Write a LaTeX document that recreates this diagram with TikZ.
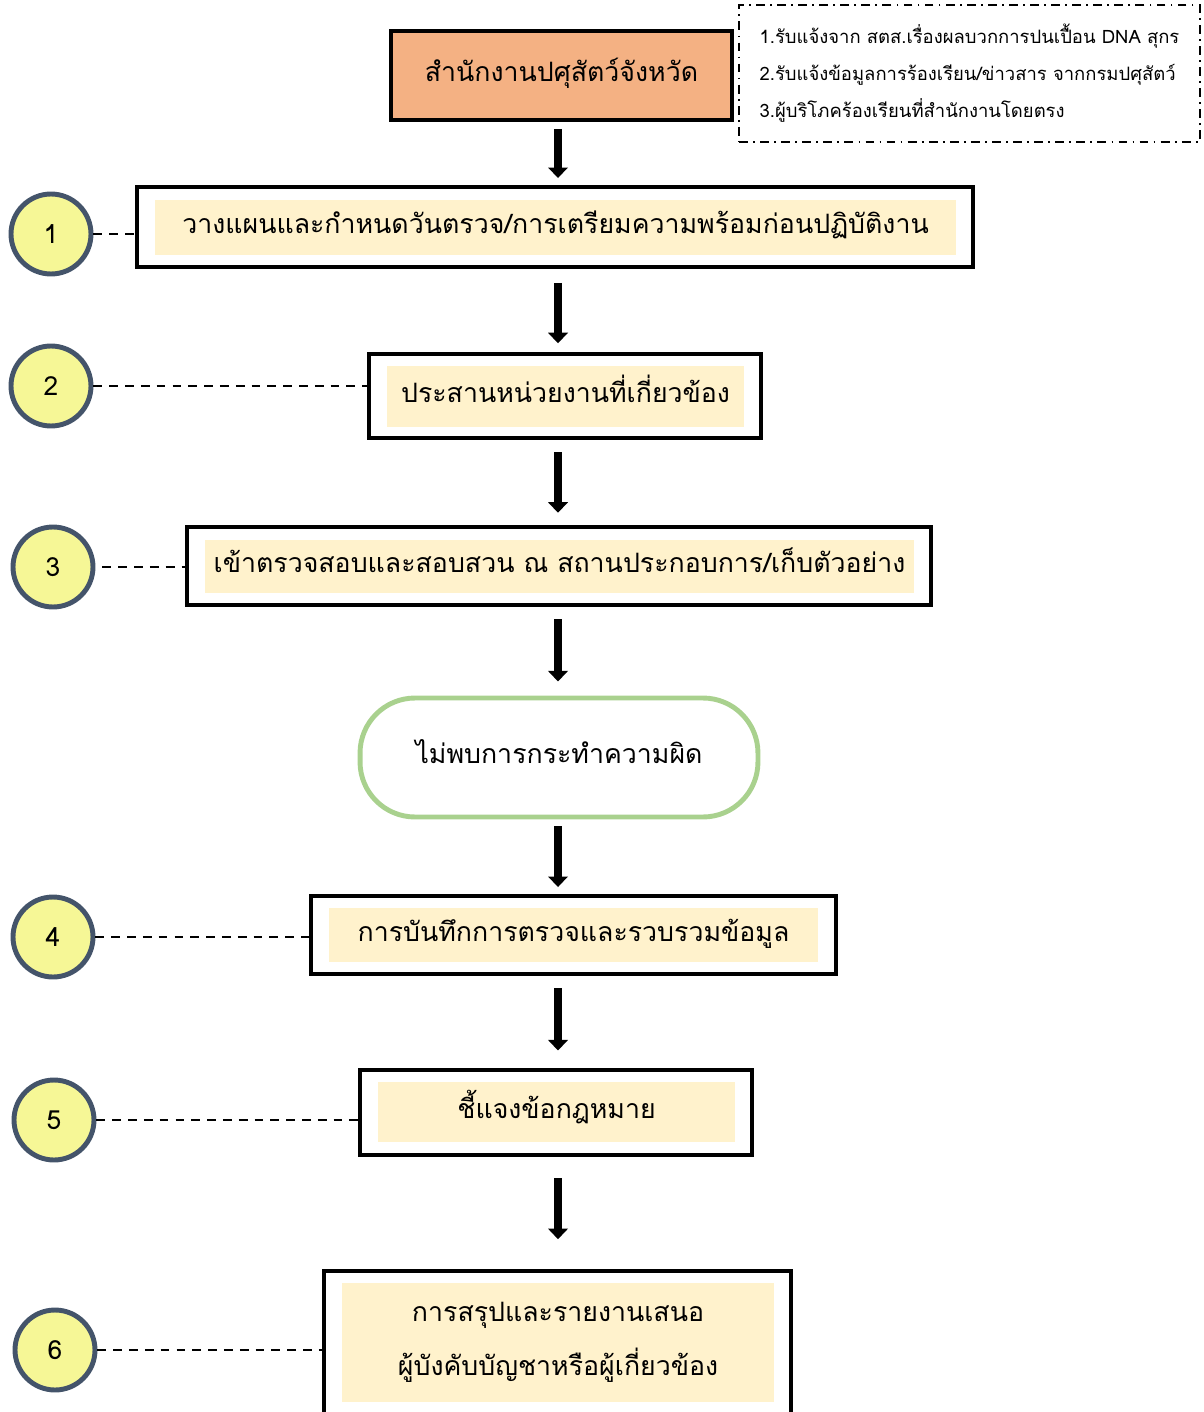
\documentclass[tikz,border=0pt]{standalone}
\usepackage{fontspec}
\newfontfamily\thai[Script=Thai]{Loma}
\usetikzlibrary{arrows.meta}

\definecolor{orangebox}{HTML}{F4B183}
\definecolor{creambox}{HTML}{FFF2CC}
\definecolor{numfill}{HTML}{F6F796}
\definecolor{numring}{HTML}{44546A}
\definecolor{greenring}{HTML}{A9D18E}

\tikzset{
	outbox/.style = { draw, line width = 2.2pt, inner sep = 0 },
	inbox/.style = { fill = creambox, inner sep = 0, align = center, font = \thai\fontsize{15.2}{31}\selectfont },
	oneline/.style = { text height = 0.34cm, text depth = 0.1cm },
	numstep/.style = { circle, draw = numring, fill = numfill, line width = 2.8pt, minimum size = 1.6cm, font = \thai\fontsize{15}{18}\selectfont },
	link/.style = { line width = 1.3pt, dash pattern = on 5pt off 4pt },
	flow/.style = { -{Triangle[width = 11pt, length = 6pt]}, line width = 5pt }
}

\begin{document}
\begin{tikzpicture}[x = 0.02cm, y = -0.02cm]
	\useasboundingbox ( 0, 0 ) rectangle ( 1203, 1412 );
	\clip ( 0, 0 ) rectangle ( 1203, 1412 );

	% หัว
	\node [ outbox, oneline, fill = orangebox, minimum width = 6.82cm, minimum height = 1.78cm, font = \thai\fontsize{15.2}{18}\selectfont ] (b0) at ( 561.5, 75.5 ) {สำนักงานปศุสัตว์จังหวัด};
	\node [ draw, line width = 1.2pt, dash pattern = on 5pt off 3pt on 1pt off 3pt, minimum width = 9.22cm, minimum height = 2.74cm, align = left, font = \thai\fontsize{10.5}{21}\selectfont ] (notes) at ( 969.5, 73.5 ) {1.รับแจ้งจาก สตส.เรื่องผลบวกการปนเปื้อน DNA สุกร\\2.รับแจ้งข้อมูลการร้องเรียน/ข่าวสาร จากกรมปศุสัตว์\\3.ผู้บริโภคร้องเรียนที่สำนักงานโดยตรง};

	% 1
	\node [ outbox, minimum width = 16.72cm, minimum height = 1.6cm ] (b1) at ( 555, 227 ) {};
	\node [ inbox, oneline, minimum width = 16.02cm, minimum height = 1.1cm ] (t1) at ( 555.5, 227.5 ) {วางแผนและกำหนดวันตรวจ/การเตรียมความพร้อมก่อนปฏิบัติงาน};
	\node [ numstep ] (c1) at ( 51, 234 ) {1};

	% 2
	\node [ outbox, minimum width = 7.84cm, minimum height = 1.68cm ] (b2) at ( 565, 396 ) {};
	\node [ inbox, oneline, minimum width = 7.14cm, minimum height = 1.22cm ] (t2) at ( 565.5, 396.5 ) {ประสานหน่วยงานที่เกี่ยวข้อง};
	\node [ numstep ] (c2) at ( 51, 386 ) {2};

	% 3
	\node [ outbox, minimum width = 14.88cm, minimum height = 1.56cm ] (b3) at ( 559, 566 ) {};
	\node [ inbox, oneline, minimum width = 14.18cm, minimum height = 1.06cm ] (t3) at ( 559.5, 566.5 ) {เข้าตรวจสอบและสอบสวน ณ สถานประกอบการ/เก็บตัวอย่าง};
	\node [ numstep ] (c3) at ( 53, 567 ) {3};

	% ผล
	\node [ oneline, draw = greenring, line width = 2.8pt, fill = white, rounded corners = 1.1cm, minimum width = 7.96cm, minimum height = 2.38cm, font = \thai\fontsize{15.2}{18}\selectfont ] (res) at ( 559, 757.5 ) {ไม่พบการกระทำความผิด};

	% 4
	\node [ outbox, minimum width = 10.5cm, minimum height = 1.56cm ] (b4) at ( 573.5, 935 ) {};
	\node [ inbox, oneline, minimum width = 9.78cm, minimum height = 1.08cm ] (t4) at ( 573.5, 935 ) {การบันทึกการตรวจและรวบรวมข้อมูล};
	\node [ numstep ] (c4) at ( 53, 937 ) {4};

	% 5
	\node [ outbox, minimum width = 7.84cm, minimum height = 1.7cm ] (b5) at ( 556, 1112.5 ) {};
	\node [ inbox, oneline, minimum width = 7.14cm, minimum height = 1.2cm ] (t5) at ( 556.5, 1112 ) {ชี้แจงข้อกฎหมาย};
	\node [ numstep ] (c5) at ( 54, 1120 ) {5};

	% 6
	\node [ outbox, minimum width = 9.34cm, minimum height = 3.38cm ] (b6) at ( 557.5, 1355.5 ) {};
	\node [ inbox, minimum width = 8.64cm, minimum height = 2.38cm ] (t6) at ( 558, 1342.5 ) {การสรุปและรายงานเสนอ\\ผู้บังคับบัญชาหรือผู้เกี่ยวข้อง};
	\node [ numstep ] (c6) at ( 55, 1350 ) {6};

	% ลูกศร
	\coordinate (ax) at ( 558, 0 );
	\draw [ flow, shorten <= 4pt, shorten >= 4pt ] (b0.south -| ax) -- (b1.north -| ax);
	\draw [ flow, shorten <= 8pt, shorten >= 5pt ] (b1.south -| ax) -- (b2.north -| ax);
	\draw [ flow, shorten <= 7pt, shorten >= 7pt ] (b2.south -| ax) -- (b3.north -| ax);
	\draw [ flow, shorten <= 7pt, shorten >= 8pt ] (b3.south -| ax) -- (res.north -| ax);
	\draw [ flow, shorten <= 4pt, shorten >= 4pt ] (res.south -| ax) -- (b4.north -| ax);
	\draw [ flow, shorten <= 7pt, shorten >= 10pt ] (b4.south -| ax) -- (b5.north -| ax);
	\draw [ flow, shorten <= 12pt, shorten >= 17pt ] (b5.south -| ax) -- (b6.north -| ax);

	% เส้นประ
	\draw [ link ] (c1.east) -- (c1.east -| b1.west);
	\draw [ link ] (c2.east) -- (c2.east -| b2.west);
	\draw [ link, shorten <= 4pt ] (c3.east) -- (c3.east -| b3.west);
	\draw [ link ] (c4.east) -- (c4.east -| b4.west);
	\draw [ link ] (c5.east) -- (c5.east -| b5.west);
	\draw [ link ] (c6.east) -- (c6.east -| b6.west);
\end{tikzpicture}
\end{document}
